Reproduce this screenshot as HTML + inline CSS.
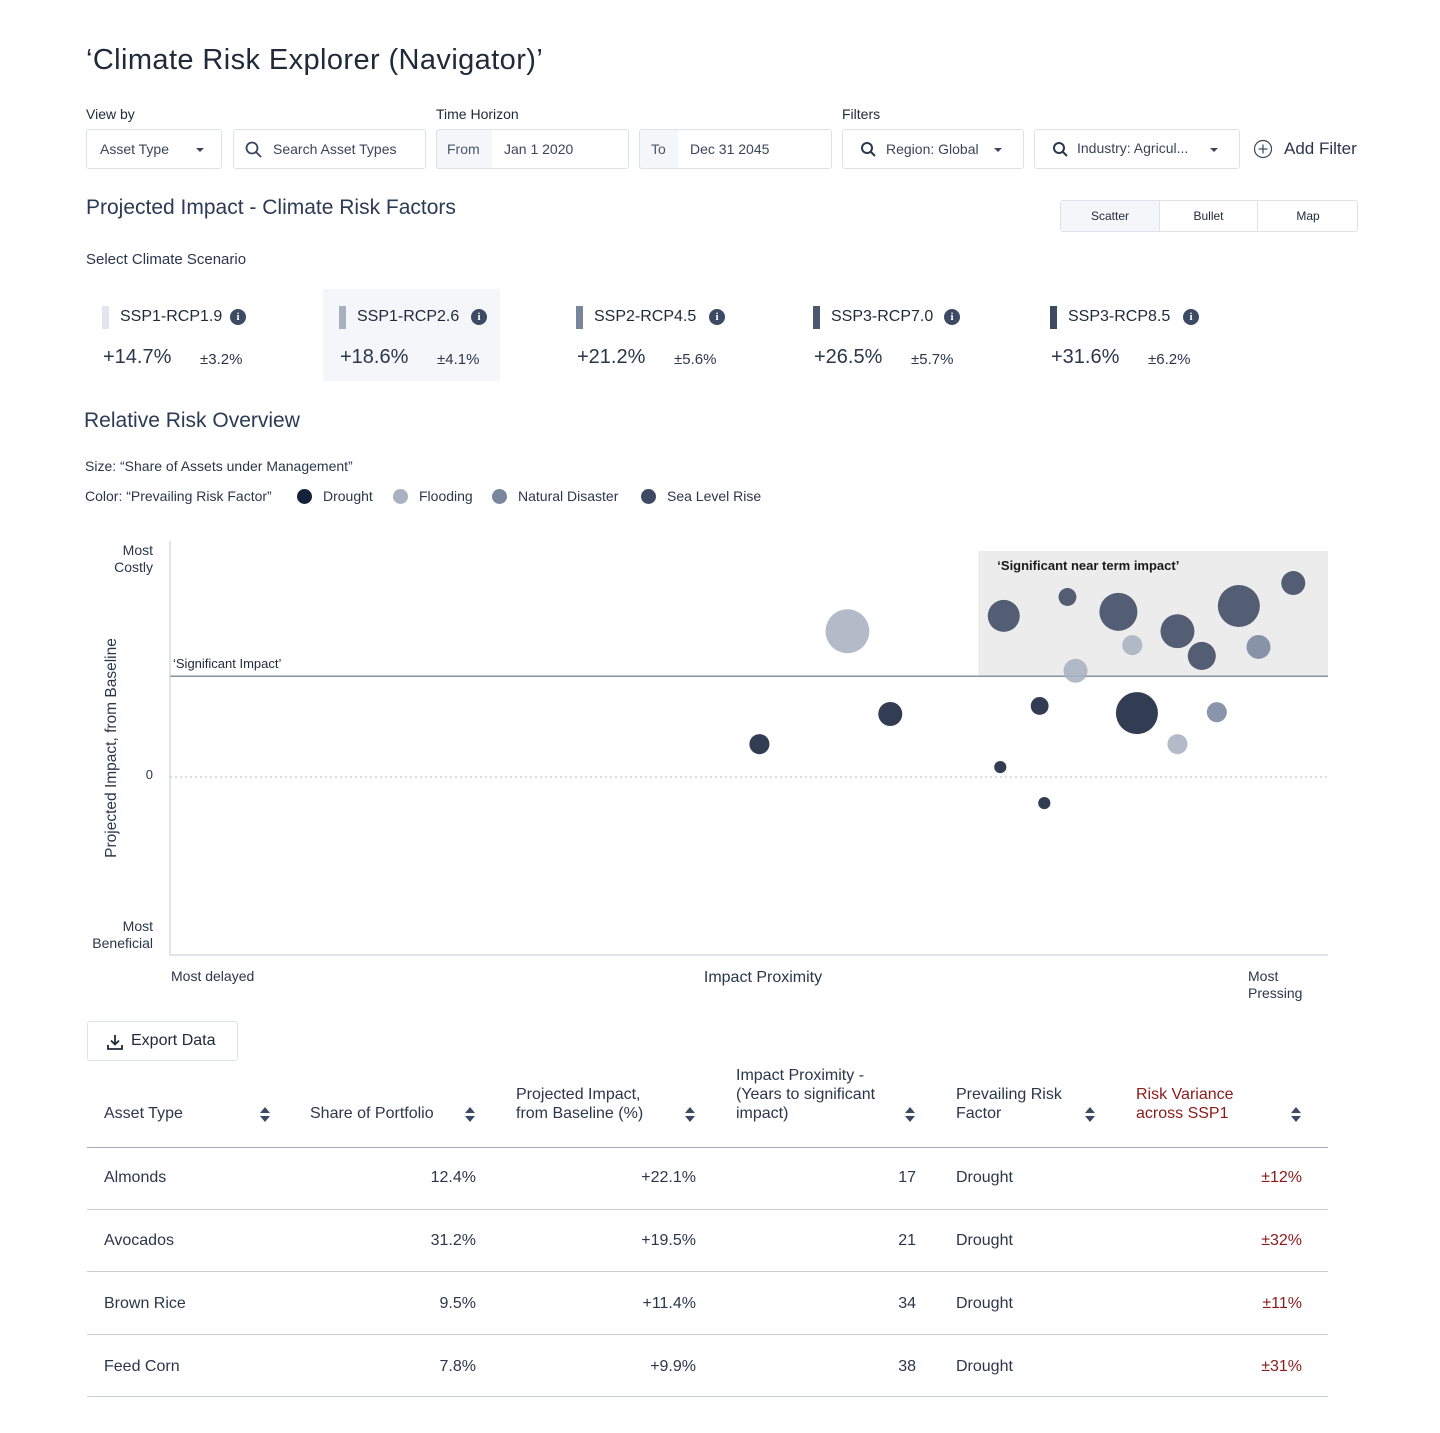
<!DOCTYPE html>
<html><head><meta charset="utf-8">
<style>
*{box-sizing:border-box;margin:0;padding:0}
body{width:1440px;height:1433px;background:#fff;font-family:"Liberation Sans",sans-serif;color:#2b364a;position:relative;overflow:hidden}
.a{position:absolute;white-space:nowrap}
.box{position:absolute;border:1px solid #dde2ea;border-radius:3px;background:#fff}
.lbl{font-size:14px;color:#1f2937}
.ctl{font-size:14px;color:#3a4558}
.tri{display:inline-block;width:0;height:0;border-left:4px solid transparent;border-right:4px solid transparent;border-top:4px solid #3a4558}
.card-bar{position:absolute;width:7px;height:23px}
.info{position:absolute;width:16px;height:16px;border-radius:50%;background:#3d4a64;color:#fff;font-size:11px;font-weight:bold;text-align:center;line-height:16px;font-family:"Liberation Serif",serif}
.th{position:absolute;font-size:16px;color:#2b364a;line-height:19px}
.td{position:absolute;font-size:16px;color:#2b364a}
.sort{position:absolute;width:10px;height:16px}
.sort:before{content:"";position:absolute;left:0;top:0;border-left:5px solid transparent;border-right:5px solid transparent;border-bottom:6px solid #3d4a64}
.sort:after{content:"";position:absolute;left:0;top:9px;border-left:5px solid transparent;border-right:5px solid transparent;border-top:6px solid #3d4a64}
.hr{position:absolute;left:87px;width:1241px;height:1px;background:#c9ced6}
</style></head><body>
<div class="a" style="left:86px;top:44px;font-size:29px;letter-spacing:0.4px;color:#1f2937">‘Climate Risk Explorer (Navigator)’</div>

<div class="a lbl" style="left:86px;top:106px">View by</div>
<div class="box" style="left:86px;top:129px;width:136px;height:40px"><span class="a ctl" style="left:13px;top:11px">Asset Type</span><span class="a tri" style="left:109px;top:18px"></span></div>
<div class="box" style="left:233px;top:129px;width:193px;height:40px">
<svg class="a" style="left:11px;top:11px" width="18" height="18" viewBox="0 0 18 18"><circle cx="7" cy="7" r="5.5" fill="none" stroke="#3a4558" stroke-width="1.8"/><line x1="11" y1="11" x2="16" y2="16" stroke="#3a4558" stroke-width="1.8"/></svg>
<span class="a ctl" style="left:39px;top:11px">Search Asset Types</span></div>

<div class="a lbl" style="left:436px;top:106px">Time Horizon</div>
<div class="box" style="left:436px;top:129px;width:193px;height:40px;overflow:hidden"><div class="a" style="left:0;top:0;width:55px;height:38px;background:#f4f6fa"></div><span class="a ctl" style="left:10px;top:11px;color:#4b5568">From</span><span class="a ctl" style="left:67px;top:11px">Jan 1 2020</span></div>
<div class="box" style="left:639px;top:129px;width:193px;height:40px;overflow:hidden"><div class="a" style="left:0;top:0;width:38px;height:38px;background:#f4f6fa"></div><span class="a ctl" style="left:11px;top:11px;color:#4b5568">To</span><span class="a ctl" style="left:50px;top:11px">Dec 31 2045</span></div>

<div class="a lbl" style="left:842px;top:106px">Filters</div>
<div class="box" style="left:842px;top:129px;width:182px;height:40px">
<svg class="a" style="left:17px;top:11px" width="18" height="18" viewBox="0 0 18 18"><circle cx="7" cy="7" r="5" fill="none" stroke="#2b364a" stroke-width="2"/><line x1="10.5" y1="10.5" x2="15" y2="15" stroke="#2b364a" stroke-width="2"/></svg>
<span class="a ctl" style="left:43px;top:11px">Region: Global</span><span class="a tri" style="left:151px;top:18px"></span></div>
<div class="box" style="left:1034px;top:129px;width:206px;height:40px">
<svg class="a" style="left:17px;top:11px" width="18" height="18" viewBox="0 0 18 18"><circle cx="7" cy="7" r="5" fill="none" stroke="#2b364a" stroke-width="2"/><line x1="10.5" y1="10.5" x2="15" y2="15" stroke="#2b364a" stroke-width="2"/></svg>
<span class="a ctl" style="left:42px;top:10px">Industry: Agricul...</span><span class="a tri" style="left:175px;top:18px"></span></div>
<div class="a" style="left:1253px;top:139px;height:22px">
<svg class="a" style="left:0;top:0" width="20" height="20" viewBox="0 0 20 20"><circle cx="10" cy="10" r="8.5" fill="none" stroke="#3a4558" stroke-width="1.2"/><line x1="10" y1="5.5" x2="10" y2="14.5" stroke="#3a4558" stroke-width="1.2"/><line x1="5.5" y1="10" x2="14.5" y2="10" stroke="#3a4558" stroke-width="1.2"/></svg>
<span class="a" style="left:31px;top:0;font-size:17px;color:#2b364a">Add Filter</span></div>

<div class="a" style="left:86px;top:196px;font-size:21px;color:#2b3a55">Projected Impact - Climate Risk Factors</div>
<div class="box" style="left:1060px;top:200px;width:298px;height:32px;overflow:hidden">
<div class="a" style="left:0;top:0;width:99px;height:30px;background:#f4f6fa;border-right:1px solid #dde2ea;text-align:center;line-height:30px;font-size:12px;color:#1f2937">Scatter</div>
<div class="a" style="left:99px;top:0;width:98px;height:30px;border-right:1px solid #dde2ea;text-align:center;line-height:30px;font-size:12px;color:#1f2937">Bullet</div>
<div class="a" style="left:197px;top:0;width:100px;height:30px;text-align:center;line-height:30px;font-size:12px;color:#1f2937">Map</div>
</div>

<div class="a" style="left:86px;top:251px;font-size:15px;color:#2b364a">Select Climate Scenario</div>

<div class="a" style="left:86px;top:289px;width:177px;height:92px">
<div class="card-bar" style="left:16px;top:17px;background:#e2e7ef"></div><span class="a" style="left:34px;top:19px;font-size:16px;color:#1f2937">SSP1-RCP1.9</span><div class="info" style="left:144px;top:20px">i</div>
<span class="a" style="left:17px;top:57px;font-size:20px">+14.7%</span><span class="a" style="left:114px;top:62px;font-size:15px">±3.2%</span></div>
<div class="a" style="left:323px;top:289px;width:177px;height:92px;background:#f4f6fa">
<div class="card-bar" style="left:16px;top:17px;background:#a7b0bf"></div><span class="a" style="left:34px;top:19px;font-size:16px;color:#1f2937">SSP1-RCP2.6</span><div class="info" style="left:148px;top:20px">i</div>
<span class="a" style="left:17px;top:57px;font-size:20px">+18.6%</span><span class="a" style="left:114px;top:62px;font-size:15px">±4.1%</span></div>
<div class="a" style="left:560px;top:289px;width:177px;height:92px">
<div class="card-bar" style="left:16px;top:17px;background:#7a869e"></div><span class="a" style="left:34px;top:19px;font-size:16px;color:#1f2937">SSP2-RCP4.5</span><div class="info" style="left:149px;top:20px">i</div>
<span class="a" style="left:17px;top:57px;font-size:20px">+21.2%</span><span class="a" style="left:114px;top:62px;font-size:15px">±5.6%</span></div>
<div class="a" style="left:797px;top:289px;width:177px;height:92px">
<div class="card-bar" style="left:16px;top:17px;background:#4c5870"></div><span class="a" style="left:34px;top:19px;font-size:16px;color:#1f2937">SSP3-RCP7.0</span><div class="info" style="left:147px;top:20px">i</div>
<span class="a" style="left:17px;top:57px;font-size:20px">+26.5%</span><span class="a" style="left:114px;top:62px;font-size:15px">±5.7%</span></div>
<div class="a" style="left:1034px;top:289px;width:177px;height:92px">
<div class="card-bar" style="left:16px;top:17px;background:#3d4a64"></div><span class="a" style="left:34px;top:19px;font-size:16px;color:#1f2937">SSP3-RCP8.5</span><div class="info" style="left:149px;top:20px">i</div>
<span class="a" style="left:17px;top:57px;font-size:20px">+31.6%</span><span class="a" style="left:114px;top:62px;font-size:15px">±6.2%</span></div>

<div class="a" style="left:84px;top:409px;font-size:21px;color:#2b3a55">Relative Risk Overview</div>
<div class="a" style="left:85px;top:458px;font-size:14px;color:#2b364a">Size: “Share of Assets under Management”</div>
<div class="a" style="left:85px;top:488px;font-size:14px;color:#2b364a;height:18px;width:700px">
<span class="a" style="left:0;top:0">Color: “Prevailing Risk Factor”</span>
<span class="a" style="left:212px;top:0"><i style="position:absolute;left:0;top:1px;width:15px;height:15px;border-radius:50%;background:#16213a"></i><span style="margin-left:26px">Drought</span></span>
<span class="a" style="left:308px;top:0"><i style="position:absolute;left:0;top:1px;width:15px;height:15px;border-radius:50%;background:#a9b2c1"></i><span style="margin-left:26px">Flooding</span></span>
<span class="a" style="left:407px;top:0"><i style="position:absolute;left:0;top:1px;width:15px;height:15px;border-radius:50%;background:#7a869e"></i><span style="margin-left:26px">Natural Disaster</span></span>
<span class="a" style="left:556px;top:0"><i style="position:absolute;left:0;top:1px;width:15px;height:15px;border-radius:50%;background:#3d4a64"></i><span style="margin-left:26px">Sea Level Rise</span></span>
</div>

<svg id="chart" class="a" style="left:0;top:530px" width="1440" height="480" font-family="Liberation Sans, sans-serif"></svg>

<div class="box" style="left:87px;top:1021px;width:151px;height:40px">
<svg class="a" style="left:18px;top:11px" width="18" height="18" viewBox="0 0 18 18"><line x1="9" y1="2" x2="9" y2="11" stroke="#1f2937" stroke-width="1.8"/><polyline points="5,7.5 9,11.5 13,7.5" fill="none" stroke="#1f2937" stroke-width="1.8"/><polyline points="2,12 2,16 16,16 16,12" fill="none" stroke="#1f2937" stroke-width="1.8"/></svg>
<span class="a" style="left:43px;top:10px;font-size:16px;color:#1f2937">Export Data</span></div>

<div>
<div class="th" style="left:104px;top:1104px">Asset Type</div><div class="sort" style="left:260px;top:1107px"></div>
<div class="th" style="left:310px;top:1104px">Share of Portfolio</div><div class="sort" style="left:465px;top:1107px"></div>
<div class="th" style="left:516px;top:1085px">Projected Impact,<br>from Baseline (%)</div><div class="sort" style="left:685px;top:1107px"></div>
<div class="th" style="left:736px;top:1066px">Impact Proximity -<br>(Years to significant<br>impact)</div><div class="sort" style="left:905px;top:1107px"></div>
<div class="th" style="left:956px;top:1085px">Prevailing Risk<br>Factor</div><div class="sort" style="left:1085px;top:1107px"></div>
<div class="th" style="left:1136px;top:1085px;color:#8b1a1a">Risk Variance<br>across SSP1</div><div class="sort" style="left:1291px;top:1107px"></div>
<div class="hr" style="top:1147px;background:#a3adbd"></div>
<div id="rows"></div>
</div>

<script>
const NS="http://www.w3.org/2000/svg";
// chart data
const pxX=[58.5,50.9,62.2,72.0,77.5,81.9,83.1,87.0,89.1,92.3,97.0,94.0,78.2,75.1,83.5,90.4,87.0,71.7,75.5];
const impactY=[32.4,7.3,14.0,35.8,40.0,36.7,29.3,32.4,26.9,38.0,43.1,28.9,23.6,15.8,14.2,14.4,7.3,2.2,-5.8];
const shares=[30,6.3,9,16,5,22.6,6.3,18,12.3,27.6,9,9,9,5,27.6,6.3,6.3,2.3,2.3];
const factors=["Flooding","Drought","Drought","Sea Level Rise","Sea Level Rise","Sea Level Rise","Flooding","Sea Level Rise","Sea Level Rise","Sea Level Rise","Sea Level Rise","Natural Disaster","Flooding","Drought","Drought","Natural Disaster","Flooding","Drought","Drought"];
const significantImpact=22.4;
const nearTermStart=69.8;
const colors={"Drought":"#16213a","Flooding":"#a9b2c1","Natural Disaster":"#7a869e","Sea Level Rise":"#3d4a64"};
const X0=170,X1=1328,XMIN=0,XMAX=100;
const Y0=247,PXU=4.5;
const xs=v=>X0+(v-XMIN)/(XMAX-XMIN)*(X1-X0);
const ys=v=>Y0-v*PXU;
const rs=s=>Math.sqrt(s)*4;
const svg=document.getElementById('chart');
function mk(t,a){const e=document.createElementNS(NS,t);for(const k in a)e.setAttribute(k,a[k]);svg.appendChild(e);return e;}
let e;
e=mk('rect',{x:xs(nearTermStart),y:21,width:X1-xs(nearTermStart),height:ys(significantImpact)-21,fill:'#ececec'});


e=mk('text',{x:xs(nearTermStart)+19,y:40,'font-size':13,'font-weight':'bold',fill:'#1a1a1a'});e.textContent='‘Significant near term impact’';


e=mk('line',{x1:X0,x2:X1,y1:ys(0),y2:ys(0),stroke:'#b5bdc9','stroke-dasharray':'2,3'});


e=mk('line',{x1:X0,x2:X1,y1:ys(significantImpact),y2:ys(significantImpact),stroke:'#8a93a3','stroke-width':1.5});


e=mk('text',{x:173,y:ys(significantImpact)-8,'font-size':13,fill:'#1f2937'});e.textContent='‘Significant Impact’';


e=mk('line',{x1:X0,x2:X0,y1:11,y2:425,stroke:'#c2c8d1'});


e=mk('line',{x1:X0,x2:X1,y1:425,y2:425,stroke:'#c2c8d1'});


for(let i=0;i<pxX.length;i++){
  e=mk('circle',{cx:xs(pxX[i]),cy:ys(impactY[i]),r:rs(shares[i]),fill:colors[factors[i]],'fill-opacity':0.88});
  
  
}
const txt=(x,y,s,anchor,name,size,extra)=>{const t=mk('text',Object.assign({x:x,y:y,'font-size':size||14,fill:'#2b364a','text-anchor':anchor||'start'},extra||{}));t.textContent=s;return t;};
txt(153,25,'Most','end','y-top-label');txt(153,42,'Costly','end','y-top-label-2');
txt(153,401,'Most','end','y-bottom-label');txt(153,418,'Beneficial','end','y-bottom-label-2');
txt(153,249,'0','end','y-zero-tick',13);
txt(116,218,'Projected Impact, from Baseline','middle','y-axis-title',15.5,{transform:'rotate(-90 116 218)'});
txt(171,451,'Most delayed','start','x-left-label');
txt(763,452,'Impact Proximity','middle','x-axis-title',16);
txt(1248,451,'Most','start','x-right-label');txt(1248,468,'Pressing','start','x-right-label-2');

// table data
const assets=["Almonds","Avocados","Brown Rice","Feed Corn"];
const sharePct=["12.4%","31.2%","9.5%","7.8%"];
const impacts=["+22.1%","+19.5%","+11.4%","+9.9%"];
const years=["17","21","34","38"];
const riskF=["Drought","Drought","Drought","Drought"];
const variance=["±12%","±32%","±11%","±31%"];
const rows=document.getElementById('rows');
function cell(txtv,style,name){const d=document.createElement('div');d.className='td';d.setAttribute('style',style);d.textContent=txtv;rows.appendChild(d);}
for(let i=0;i<assets.length;i++){
  const top=1169+i*63;
  cell(assets[i],`left:104px;top:${top}px`,'cell-asset');
  cell(sharePct[i],`right:${1440-476}px;top:${top}px`,'cell-share');
  cell(impacts[i],`right:${1440-696}px;top:${top}px`,'cell-impact');
  cell(years[i],`right:${1440-916}px;top:${top}px`,'cell-years');
  cell(riskF[i],`left:956px;top:${top}px`,'cell-risk-factor');
  cell(variance[i],`right:${1440-1302}px;top:${top}px;color:#8b1a1a`,'cell-variance');
  const hr=document.createElement('div');hr.className='hr';hr.style.top=(1209+i*62.3)+'px';
  
  
  rows.appendChild(hr);
}
</script>
</body></html>
